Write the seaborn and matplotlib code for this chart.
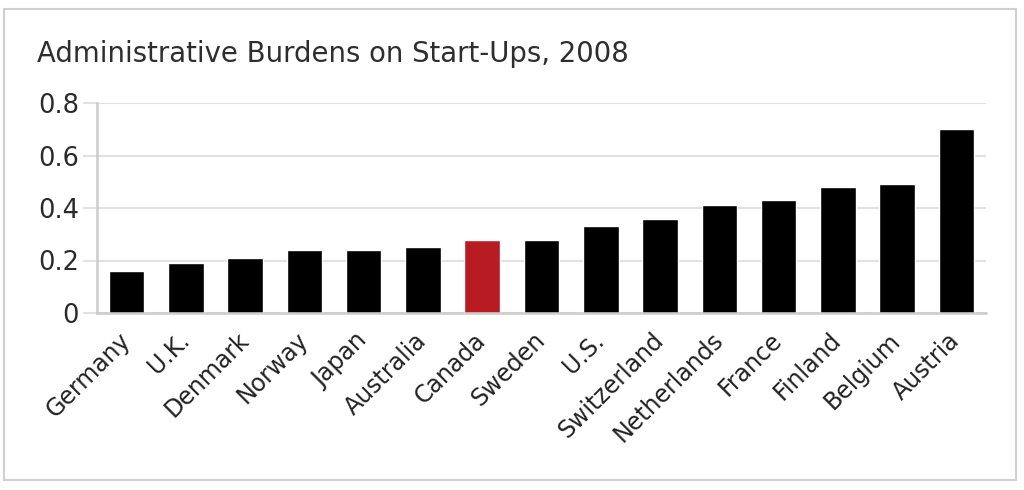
import matplotlib
matplotlib.use("Agg")
import matplotlib.pyplot as plt
import seaborn as sns
import pandas as pd
from matplotlib.patches import Rectangle

countries = ["Germany", "U.K.", "Denmark", "Norway", "Japan", "Australia", "Canada",
             "Sweden", "U.S.", "Switzerland", "Netherlands", "France", "Finland",
             "Belgium", "Austria"]
burden = [0.16, 0.19, 0.21, 0.24, 0.24, 0.25, 0.28, 0.28, 0.33, 0.36, 0.41, 0.43,
          0.48, 0.49, 0.70]
highlight = "Canada"
tick_values = [0, 0.2, 0.4, 0.6, 0.8]
tick_labels = ["0", "0.2", "0.4", "0.6", "0.8"]
title = "Administrative Burdens on Start-Ups, 2008"

sns.set_theme(style="white")
plt.rcParams['font.family'] = ['DejaVu Sans']

df = pd.DataFrame({"country": countries, "burden": burden})
df["group"] = ["highlight" if c == highlight else "other" for c in countries]

W, H = 1024, 490
fig = plt.figure(figsize=(W / 100, H / 100), dpi=100)
fig.patch.set_facecolor("white")
ax = fig.add_axes([97 / W, 1 - 313 / H, (986 - 97) / W, (313 - 103) / H])

sns.barplot(data=df, x="country", y="burden", hue="group", order=countries,
            palette={"highlight": "#B81C22", "other": "#000000"},
            width=0.6, saturation=1, legend=False, ax=ax)

ax.set_xlim(-0.5, len(countries) - 0.5)
ax.set_ylim(0, 0.8)
ax.set_yticks(tick_values)
ax.set_yticklabels(tick_labels)
ax.set_xlabel("")
ax.set_ylabel("")

ax.set_axisbelow(True)
ax.yaxis.grid(True, color="#e2e2e2", lw=1.5)
ax.xaxis.grid(False)
for s in ["top", "right"]:
    ax.spines[s].set_visible(False)
for s in ["left", "bottom"]:
    ax.spines[s].set_color("#cccccc")
    ax.spines[s].set_linewidth(1.8)

ax.tick_params(axis="y", which="major", length=10, width=1.5, color="#e2e2e2",
               pad=3, labelsize=18.5, labelcolor="#2a2a2a", left=True)
ax.tick_params(axis="x", which="major", length=0, pad=17, labelsize=17,
               labelcolor="#222222")
for lbl in ax.get_xticklabels():
    lbl.set_rotation(45)
    lbl.set_ha("right")
    lbl.set_va("center")
    lbl.set_rotation_mode("anchor")

fig.text(37 / W, 1 - 61.5 / H, title, ha="left", va="baseline",
         fontsize=19.8, color="#2e2e2e")

fig.patches.append(Rectangle((4 / W, 1 - 480 / H), (1016 - 4) / W, (480 - 9) / H,
                             transform=fig.transFigure, fill=False,
                             ec="#d0d0d0", lw=1.5))

fig.savefig("out.png", dpi=100)
